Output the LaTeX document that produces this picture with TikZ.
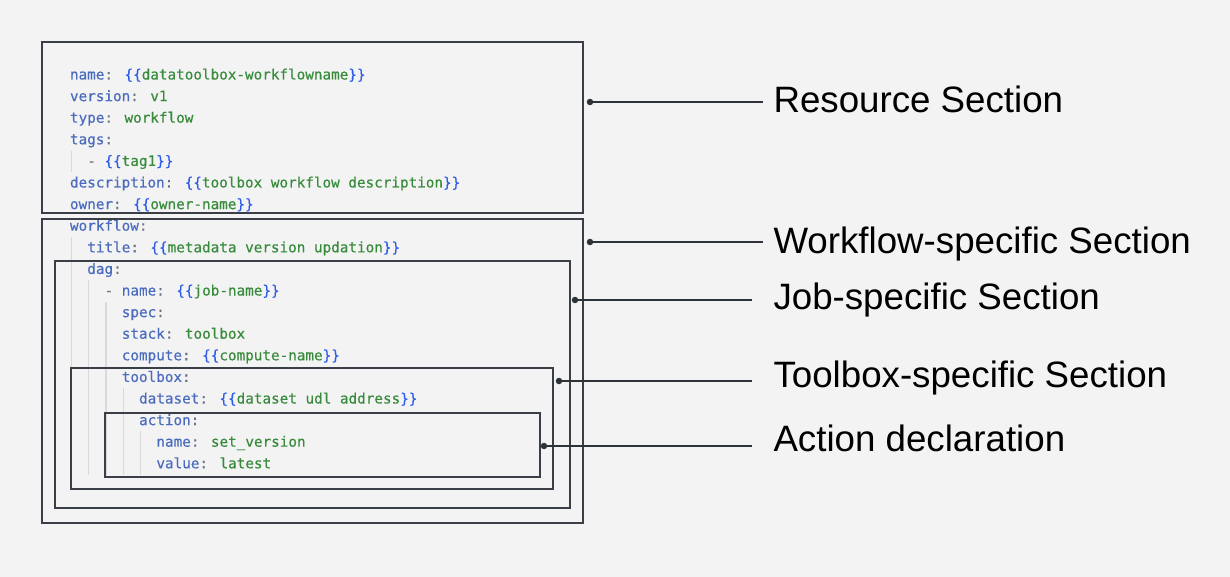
\documentclass[tikz,border=0pt]{standalone}
\usepackage{fontspec}
\newfontfamily\labfont{Liberation Sans}
\newfontfamily\codefont[FakeBold=0.35]{DejaVu Sans Mono}
\definecolor{bgc}{HTML}{F3F3F3}
\definecolor{boxc}{HTML}{3A3F47}
\definecolor{leadc}{HTML}{2E333A}
\definecolor{guidec}{HTML}{D9D9D9}
\definecolor{keyc}{HTML}{4A6BBE}
\definecolor{punc}{HTML}{687285}
\definecolor{brc}{HTML}{2D5CE8}
\definecolor{valc}{HTML}{378B3B}
\newcommand\ky[1]{\textcolor{keyc}{#1}\textcolor{punc}{:}}
\newcommand\tp[1]{\textcolor{brc}{\{\{}\textcolor{valc}{#1}\textcolor{brc}{\}\}}}
\newcommand\vl[1]{\textcolor{valc}{#1}}
\newcommand\dsh{\textcolor{punc}{-}}
\tikzset{
  code/.style={anchor=base west, inner sep=0pt, outer sep=0pt, font=\codefont\fontsize{14.3}{16}\selectfont},
  sectlabel/.style={anchor=base west, inner sep=0pt, outer sep=0pt, font=\labfont\fontsize{36.7}{40}\selectfont, text=black},
  secbox/.style={draw=boxc, line width=1.8pt, inner sep=0pt, outer sep=0pt, anchor=north west},
  guide/.style={draw=guidec, line width=1.3pt},
  leader/.style={draw=leadc, line width=1.6pt},
  dot/.style={fill=leadc, circle, inner sep=0pt, minimum size=6.5pt}
}
\begin{document}
\begin{tikzpicture}[x=1pt,y=-1pt]
\fill[bgc] (0,0) rectangle (1230,577);
\useasboundingbox (0,0) rectangle (1230,577);

% indentation guides
\draw[guide] (71.5,150.6) -- (71.5,172.2);
\draw[guide] (71.5,237) -- (71.5,474.6);
\draw[guide] (88.8,280.2) -- (88.8,474.6);
\draw[guide] (106.1,301.8) -- (106.1,474.6);
\draw[guide] (123.3,388.2) -- (123.3,474.6);
\draw[guide] (140.6,431.4) -- (140.6,474.6);

% code lines
\node[code] (c0)  at (70,79.5)    {\ky{name} \tp{datatoolbox-workflowname}};
\node[code] (c1)  at (70,101.1)   {\ky{version} \vl{v1}};
\node[code] (c2)  at (70,122.7)   {\ky{type} \vl{workflow}};
\node[code] (c3)  at (70,144.3)   {\ky{tags}};
\node[code] (c4)  at (87.3,165.9) {\dsh{} \tp{tag1}};
\node[code] (c5)  at (70,187.5)   {\ky{description} \tp{toolbox workflow description}};
\node[code] (c6)  at (70,209.1)   {\ky{owner} \tp{owner-name}};
\node[code] (c7)  at (70,230.7)   {\ky{workflow}};
\node[code] (c8)  at (87.3,252.3) {\ky{title} \tp{metadata version updation}};
\node[code] (c9)  at (87.3,273.9) {\ky{dag}};
\node[code] (c10) at (104.6,295.5) {\dsh{} \ky{name} \tp{job-name}};
\node[code] (c11) at (121.8,317.1) {\ky{spec}};
\node[code] (c12) at (121.8,338.7) {\ky{stack} \vl{toolbox}};
\node[code] (c13) at (121.8,360.3) {\ky{compute} \tp{compute-name}};
\node[code] (c14) at (121.8,381.9) {\ky{toolbox}};
\node[code] (c15) at (139.1,403.5) {\ky{dataset} \tp{dataset udl address}};
\node[code] (c16) at (139.1,425.1) {\ky{action}};
\node[code] (c17) at (156.4,446.7) {\ky{name} \vl{set\_version}};
\node[code] (c18) at (156.4,468.3) {\ky{value} \vl{latest}};

% section boxes
\node[secbox, minimum width=541pt, minimum height=171pt] (res)  at (42,42)  {};
\node[secbox, minimum width=541pt, minimum height=304pt] (wf)   at (42,219) {};
\node[secbox, minimum width=515pt, minimum height=247pt] (job)  at (55,261) {};
\node[secbox, minimum width=482pt, minimum height=121pt] (tool) at (71,368) {};
\node[secbox, minimum width=435pt, minimum height=64pt]  (act)  at (105,413) {};

% labels
\node[sectlabel] (lres)  at (773.5,112.5) {Resource Section};
\node[sectlabel] (lwf)   at (773.5,253)   {Workflow-specific Section};
\node[sectlabel] (ljob)  at (773.5,309.5) {Job-specific Section};
\node[sectlabel] (ltool) at (773.5,387.5) {Toolbox-specific Section};
\node[sectlabel] (lact)  at (773.5,451.5) {Action declaration};

% dots and leaders
\node[dot] (dres)  at (590,102) {};
\node[dot] (dwf)   at (590,242) {};
\node[dot] (djob)  at (575,300) {};
\node[dot] (dtool) at (559,381) {};
\node[dot] (dact)  at (544,446) {};
\draw[leader, shorten >=10.5pt] (dres.center)  -- (dres.center -| lres.west);
\draw[leader, shorten >=10.5pt] (dwf.center)   -- (dwf.center -| lwf.west);
\draw[leader, shorten >=21.5pt] (djob.center)  -- (djob.center -| ljob.west);
\draw[leader, shorten >=21.5pt] (dtool.center) -- (dtool.center -| ltool.west);
\draw[leader, shorten >=21.5pt] (dact.center)  -- (dact.center -| lact.west);
\end{tikzpicture}
\end{document}
